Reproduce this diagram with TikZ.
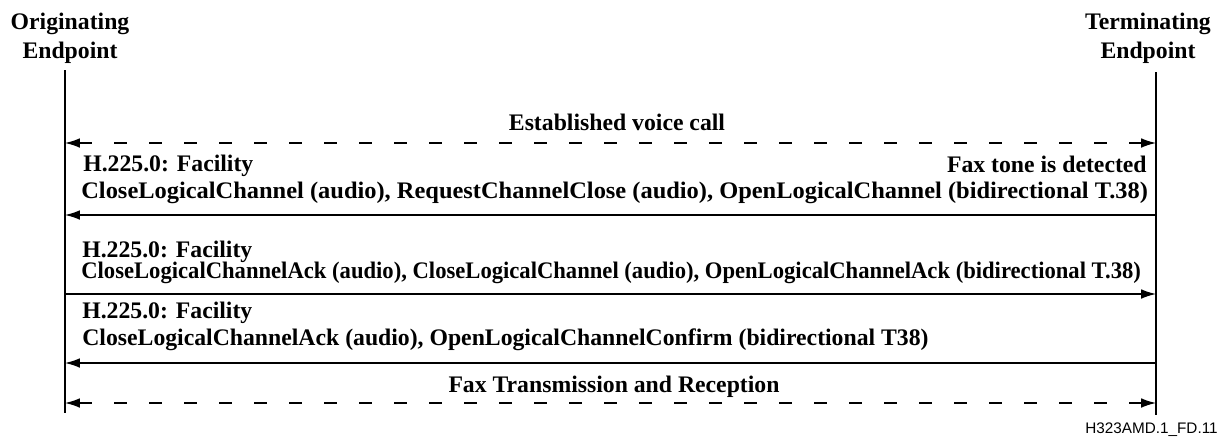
\documentclass[tikz,border=0pt]{standalone}
\usepackage{fontspec}
\setmainfont{Liberation Serif}
\setsansfont{Liberation Sans}
\usetikzlibrary{arrows.meta}
\begin{document}
\begin{tikzpicture}[x=0.02cm, y=-0.02cm,
  ep/.style={font=\fontsize{13.5}{16.5}\selectfont\bfseries, align=center, inner sep=0pt},
  msg/.style={font=\fontsize{13.5}{15}\selectfont\bfseries, inner sep=0pt},
  life/.style={line width=0.6pt},
  sig/.style={line width=0.8pt, -{Latex[length=8.5pt,width=5.5pt]}},
  dsig/.style={line width=0.8pt, {Latex[length=8.5pt,width=5.5pt]}-{Latex[length=8.5pt,width=5.5pt]},
               dash pattern=on 0.26cm off 0.44cm}]
\useasboundingbox (0,0) rectangle (1224,443);
% endpoints
\node[ep] (orig) at (70,38) {Originating\\Endpoint};
\node[ep] (term) at (1148,38) {Terminating\\Endpoint};
\coordinate (oTop) at (65,70);  \coordinate (oBot) at (65,413);
\coordinate (tTop) at (1156,72); \coordinate (tBot) at (1156,415);
\draw[life] (oTop) -- (oBot);
\draw[life] (tTop) -- (tBot);
\foreach \n/\y in {a/143,b/215,c/294,d/363,e/403}
  {\coordinate (o\n) at (65,\y); \coordinate (t\n) at (1156,\y);}
% voice call
\node[msg, anchor=base] (voice) at (617,130) {Established voice call};
\draw[dsig] (oa) -- (ta);
% first facility
\node[msg, anchor=base west] (fac1) at (83,171) {H.225.0: Facility};
\node[msg, anchor=base east] (tone) at (1147,172) {Fax tone is detected};
\node[msg, anchor=base west] (olc1) at (81,198) {\scalebox{1.03}[1]{CloseLogicalChannel (audio), RequestChannelClose (audio), OpenLogicalChannel (bidirectional T.38)}};
\draw[sig] (tb) -- (ob);
% second facility
\node[msg, anchor=base west] (fac2) at (82,257) {H.225.0: Facility};
\node[msg, anchor=base west] (olc2) at (81,278) {\scalebox{0.954}[1]{CloseLogicalChannelAck (audio), CloseLogicalChannel (audio), OpenLogicalChannelAck (bidirectional T.38)}};
\draw[sig] (oc) -- (tc);
% third facility
\node[msg, anchor=base west] (fac3) at (82,318) {H.225.0: Facility};
\node[msg, anchor=base west] (olc3) at (82,345) {CloseLogicalChannelAck (audio), OpenLogicalChannelConfirm (bidirectional T38)};
\draw[sig] (td) -- (od);
% fax
\node[msg, anchor=base] (fax) at (614,392) {Fax Transmission and Reception};
\draw[dsig] (oe) -- (te);
\node[font=\sffamily\fontsize{8.7}{10}\selectfont, anchor=base east, inner sep=0pt] (figid) at (1218,433) {H323AMD.1\_FD.11};
\end{tikzpicture}
\end{document}
